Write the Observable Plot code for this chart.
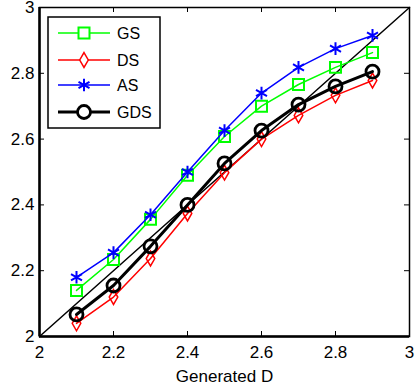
<!DOCTYPE html>
<html><head><meta charset="utf-8">
<script src="https://cdn.jsdelivr.net/npm/d3@7"></script>
<script src="https://cdn.jsdelivr.net/npm/@observablehq/plot@0.6"></script>
<style>
body{margin:0;background:#fff;}
#wrap{position:relative;width:415px;height:388px;overflow:hidden;font-family:"Liberation Sans",Arial,sans-serif;}
#legend{position:absolute;left:0;top:0;}
</style>
</head><body><div id="wrap"></div>
<script>
const xValues = [2.1, 2.2, 2.3, 2.4, 2.5, 2.6, 2.7, 2.8, 2.9];
const gsValues = [2.14, 2.234, 2.356, 2.49, 2.608, 2.70, 2.766, 2.818, 2.863];
const dsValues = [2.04, 2.12, 2.237, 2.374, 2.498, 2.60, 2.672, 2.733, 2.778];
const asValues = [2.18, 2.255, 2.37, 2.50, 2.626, 2.74, 2.818, 2.875, 2.915];
const gdsValues = [2.067, 2.155, 2.274, 2.40, 2.526, 2.626, 2.705, 2.76, 2.805];
const seriesNames = ["GS", "DS", "AS", "GDS"];
const xTicks = [2, 2.2, 2.4, 2.6, 2.8, 3];
const yTicks = [2, 2.2, 2.4, 2.6, 2.8, 3];
const axisDomain = [2, 3];
const xLabel = "Generated D";

const seriesValues = [gsValues, dsValues, asValues, gdsValues];
const style = {
  GS:  {color: "#00ff00", symbol: "square",   r: 6.2, lw: 1.5, mw: 2},
  DS:  {color: "#ff0000", symbol: "diamond",  r: 4.5, lw: 1.5, mw: 1.5},
  AS:  {color: "#0000ff", symbol: "asterisk", r: 6,   lw: 1.5, mw: 2},
  GDS: {color: "#000000", symbol: "circle",   r: 6.5, lw: 3,   mw: 2.8}
};
const data = seriesNames.flatMap((s, i) => xValues.map((x, j) => ({series: s, x, y: seriesValues[i][j]})));
const fmt = d => String(+d.toFixed(1));

const W = 415, H = 388, mL = 39, mR = 6, mT = 7, mB = 52;
const fw = W - mL - mR, fh = H - mT - mB;

const seriesMarks = seriesNames.flatMap(s => {
  const st = style[s];
  const d = data.filter(e => e.series === s);
  return [
    Plot.line(d, {x: "x", y: "y", stroke: st.color, strokeWidth: st.lw}),
    Plot.dot(d, {x: "x", y: "y", stroke: st.color, strokeWidth: st.mw, symbol: st.symbol, r: st.r, fill: "none"})
  ];
});

const chart = Plot.plot({
  width: W, height: H,
  marginLeft: mL, marginRight: mR, marginTop: mT, marginBottom: mB,
  style: {fontSize: "17px", fontFamily: "Liberation Sans, Arial, sans-serif", color: "#000", background: "#fff"},
  x: {domain: axisDomain},
  y: {domain: axisDomain},
  marks: [
    Plot.line(axisDomain, {x: d => d, y: d => d, stroke: "#000", strokeWidth: 1.5}),
    ...seriesMarks,
    Plot.tickX(xTicks, {x: d => d, insetTop: fh - 5, stroke: "#000"}),
    Plot.tickX(xTicks, {x: d => d, insetBottom: fh - 5, stroke: "#000"}),
    Plot.tickY(yTicks, {y: d => d, insetRight: fw - 5, stroke: "#000"}),
    Plot.tickY(yTicks, {y: d => d, insetLeft: fw - 5, stroke: "#000"}),
    Plot.frame({stroke: "#000", strokeWidth: 1.5}),
    Plot.ruleY([axisDomain[0]], {stroke: "#000", strokeWidth: 2.5}),
    Plot.ruleX([axisDomain[0]], {stroke: "#000", strokeWidth: 2.5}),
    Plot.axisX({ticks: xTicks, tickSize: 0, tickPadding: 9, tickFormat: fmt, label: null, fontSize: 17}),
    Plot.axisY({ticks: yTicks, tickSize: 0, tickPadding: 5, tickFormat: fmt, label: null, fontSize: 17}),
    Plot.text([xLabel], {text: d => d, frameAnchor: "bottom", dy: 40, lineAnchor: "middle", fontSize: 17, fill: "#000"})
  ]
});
const wrap = document.getElementById("wrap");
wrap.appendChild(chart);

// Legend overlay
const symMap = {square: d3.symbolSquare, diamond: d3.symbolDiamond, asterisk: d3.symbolAsterisk, circle: d3.symbolCircle};
const leg = d3.select(wrap).append("svg").attr("id", "legend").attr("width", W).attr("height", H);
const lx = 48, ly = 17, lw = 112, lh = 111;
leg.append("rect").attr("x", lx).attr("y", ly).attr("width", lw).attr("height", lh)
  .attr("fill", "#fff").attr("stroke", "#000").attr("stroke-width", 1.5);
const rowY = [33, 60, 85, 112];
seriesNames.forEach((s, i) => {
  const st = style[s];
  const g = leg.append("g").attr("transform", `translate(0,${rowY[i]})`);
  g.append("line").attr("x1", 58).attr("x2", 110).attr("y1", 0).attr("y2", 0)
    .attr("stroke", st.color).attr("stroke-width", st.lw);
  g.append("path").attr("transform", "translate(84,0)")
    .attr("d", d3.symbol(symMap[st.symbol], st.r * st.r * Math.PI)())
    .attr("fill", st.symbol === "asterisk" ? "none" : "#fff")
    .attr("stroke", st.color).attr("stroke-width", st.mw);
  g.append("text").attr("x", 117).attr("y", 0).attr("dy", "0.35em")
    .attr("font-size", 16).attr("font-family", "Liberation Sans, Arial, sans-serif").text(s);
});
</script>
</body></html>
